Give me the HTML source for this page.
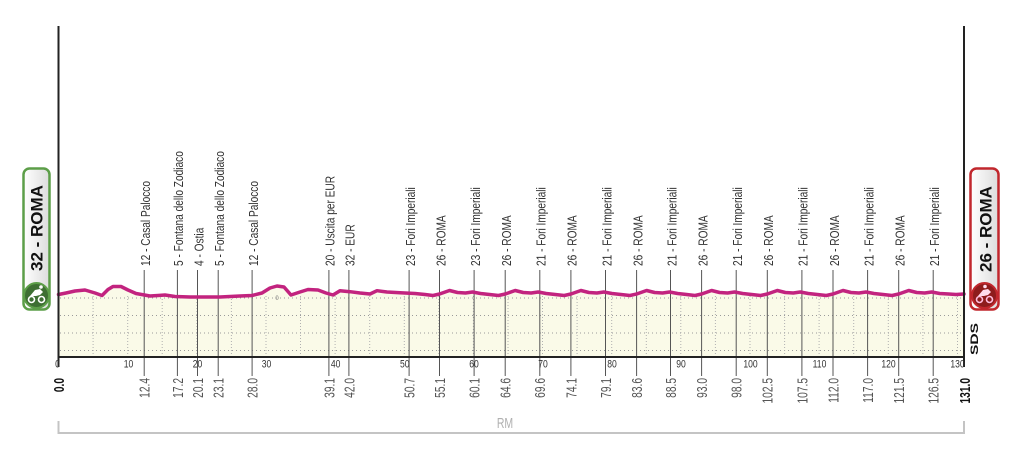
<!DOCTYPE html>
<html><head><meta charset="utf-8"><style>
html,body{margin:0;padding:0;background:#fff;}
svg{display:block;font-family:"Liberation Sans",sans-serif;}
</style></head><body>
<svg width="1024" height="453" viewBox="0 0 1024 453" xmlns="http://www.w3.org/2000/svg">
<defs>
<linearGradient id="bg" x1="0" y1="0" x2="1" y2="0"><stop offset="0" stop-color="#ffffff"/><stop offset="1" stop-color="#dcdcdc"/></linearGradient>
</defs>
<rect width="1024" height="453" fill="#fff"/>

<!-- fill -->
<polygon fill="#fafae8" points="58.5,294.5 66,293 75,291 85,290 95,293 102,295.5 108,289.5 113,286.5 121,286.5 128,290 136,293.5 150,296 158,295.5 165,295 175,296.5 190,297 220,297 240,296 252,295.5 262,293 270,288 277,286 284,287 291,295 300,292 308,289.5 318,290 326,293 333,295 340,290.7 350,291.7 360,293 370,294 377,290.7 387,292 400,292.7 415,293.5 425,294.5 433,295.5 439.5,294 449.5,290.5 457.5,292.5 465.5,293 472.5,292 480.5,293.5 489.5,294.5 498.5,295.5 505.2,294 515.2,290.5 523.2,292.5 531.2,293 538.2,292 546.2,293.5 555.2,294.5 564.2,295.5 570.9,294 580.9,290.5 588.9,292.5 596.9,293 603.9,292 611.9,293.5 620.9,294.5 629.9,295.5 636.6,294 646.6,290.5 654.6,292.5 662.6,293 669.6,292 677.6,293.5 686.6,294.5 695,295.5 701.6,294 711.6,290.5 719.6,292.5 727.6,293 734.6,292 742.6,293.5 751.6,294.5 760.6,295.5 767.3,294 777.3,290.5 785.3,292.5 793.3,293 800.3,292 808.3,293.5 817.3,294.5 826.3,295.5 833,294 843,290.5 851,292.5 859,293 866,292 874,293.5 883,294.5 892,295.5 898.7,294 908.7,290.5 916.7,292.5 924.7,293 931.7,292 939.7,293.5 948.7,294 956,294.5 964,294 964,357 58.5,357"/>

<!-- horizontal dotted grid -->
<g stroke="#9a9a9a" stroke-width="1" stroke-dasharray="1 3">
<line x1="60" y1="298" x2="963" y2="298"/>
<line x1="60" y1="315.5" x2="963" y2="315.5"/>
<line x1="60" y1="333" x2="963" y2="333"/>
<line x1="60" y1="350.5" x2="963" y2="350.5"/>
</g>
<!-- vertical dotted grid every 5 km -->
<g stroke="#b0b0b0" stroke-width="1" stroke-dasharray="1 2">
<line x1="93.1" y1="296" x2="93.1" y2="356"/><line x1="127.7" y1="296" x2="127.7" y2="356"/><line x1="162.2" y1="296" x2="162.2" y2="356"/><line x1="196.8" y1="296" x2="196.8" y2="356"/><line x1="231.4" y1="296" x2="231.4" y2="356"/><line x1="266" y1="296" x2="266" y2="356"/><line x1="300.5" y1="296" x2="300.5" y2="356"/><line x1="335.1" y1="296" x2="335.1" y2="356"/><line x1="369.7" y1="296" x2="369.7" y2="356"/><line x1="404.3" y1="296" x2="404.3" y2="356"/><line x1="438.8" y1="296" x2="438.8" y2="356"/><line x1="473.4" y1="296" x2="473.4" y2="356"/><line x1="508" y1="296" x2="508" y2="356"/><line x1="542.5" y1="296" x2="542.5" y2="356"/><line x1="577.1" y1="296" x2="577.1" y2="356"/><line x1="611.7" y1="296" x2="611.7" y2="356"/><line x1="646.3" y1="296" x2="646.3" y2="356"/><line x1="680.8" y1="296" x2="680.8" y2="356"/><line x1="715.4" y1="296" x2="715.4" y2="356"/><line x1="750" y1="296" x2="750" y2="356"/><line x1="784.6" y1="296" x2="784.6" y2="356"/><line x1="819.1" y1="296" x2="819.1" y2="356"/><line x1="853.7" y1="296" x2="853.7" y2="356"/><line x1="888.3" y1="296" x2="888.3" y2="356"/><line x1="922.9" y1="296" x2="922.9" y2="356"/><line x1="957.5" y1="296" x2="957.5" y2="356"/>
</g>

<!-- marker lines -->
<g stroke="#555" stroke-width="1">
<line x1="144.2" y1="270" x2="144.2" y2="376"/><line x1="177.4" y1="270" x2="177.4" y2="376"/><line x1="197.5" y1="270" x2="197.5" y2="376"/><line x1="218.2" y1="270" x2="218.2" y2="376"/><line x1="252.1" y1="270" x2="252.1" y2="376"/><line x1="328.9" y1="270" x2="328.9" y2="376"/><line x1="348.9" y1="270" x2="348.9" y2="376"/><line x1="409.1" y1="270" x2="409.1" y2="376"/><line x1="439.5" y1="270" x2="439.5" y2="376"/><line x1="474.1" y1="270" x2="474.1" y2="376"/><line x1="505.2" y1="270" x2="505.2" y2="376"/><line x1="539.8" y1="270" x2="539.8" y2="376"/><line x1="570.9" y1="270" x2="570.9" y2="376"/><line x1="605.5" y1="270" x2="605.5" y2="376"/><line x1="636.6" y1="270" x2="636.6" y2="376"/><line x1="670.5" y1="270" x2="670.5" y2="376"/><line x1="701.6" y1="270" x2="701.6" y2="376"/><line x1="736.2" y1="270" x2="736.2" y2="376"/><line x1="767.3" y1="270" x2="767.3" y2="376"/><line x1="801.9" y1="270" x2="801.9" y2="376"/><line x1="833" y1="270" x2="833" y2="376"/><line x1="867.6" y1="270" x2="867.6" y2="376"/><line x1="898.7" y1="270" x2="898.7" y2="376"/><line x1="933.2" y1="270" x2="933.2" y2="376"/>
</g>

<!-- profile line -->
<polyline fill="none" stroke="#c2237f" stroke-width="3.5" stroke-linejoin="round" stroke-linecap="round" points="58.5,294.5 66,293 75,291 85,290 95,293 102,295.5 108,289.5 113,286.5 121,286.5 128,290 136,293.5 150,296 158,295.5 165,295 175,296.5 190,297 220,297 240,296 252,295.5 262,293 270,288 277,286 284,287 291,295 300,292 308,289.5 318,290 326,293 333,295 340,290.7 350,291.7 360,293 370,294 377,290.7 387,292 400,292.7 415,293.5 425,294.5 433,295.5 439.5,294 449.5,290.5 457.5,292.5 465.5,293 472.5,292 480.5,293.5 489.5,294.5 498.5,295.5 505.2,294 515.2,290.5 523.2,292.5 531.2,293 538.2,292 546.2,293.5 555.2,294.5 564.2,295.5 570.9,294 580.9,290.5 588.9,292.5 596.9,293 603.9,292 611.9,293.5 620.9,294.5 629.9,295.5 636.6,294 646.6,290.5 654.6,292.5 662.6,293 669.6,292 677.6,293.5 686.6,294.5 695,295.5 701.6,294 711.6,290.5 719.6,292.5 727.6,293 734.6,292 742.6,293.5 751.6,294.5 760.6,295.5 767.3,294 777.3,290.5 785.3,292.5 793.3,293 800.3,292 808.3,293.5 817.3,294.5 826.3,295.5 833,294 843,290.5 851,292.5 859,293 866,292 874,293.5 883,294.5 892,295.5 898.7,294 908.7,290.5 916.7,292.5 924.7,293 931.7,292 939.7,293.5 948.7,294 956,294.5 964,294"/>

<text x="277" y="300" font-size="6" fill="#777" text-anchor="middle">0</text>

<!-- axes -->
<g stroke="#222" stroke-width="2">
<line x1="58.5" y1="26" x2="58.5" y2="367"/>
<line x1="964" y1="26" x2="964" y2="367"/>
<line x1="57.5" y1="357" x2="965" y2="357"/>
</g>

<!-- top labels -->
<g font-size="13" fill="#333">
<text transform="translate(150,266) rotate(-90) scale(0.78,1)">12 - Casal Palocco</text>
<text transform="translate(183.2,266) rotate(-90) scale(0.78,1)">5 - Fontana dello Zodiaco</text>
<text transform="translate(203.3,266) rotate(-90) scale(0.78,1)">4 - Ostia</text>
<text transform="translate(224,266) rotate(-90) scale(0.78,1)">5 - Fontana dello Zodiaco</text>
<text transform="translate(257.9,266) rotate(-90) scale(0.78,1)">12 - Casal Palocco</text>
<text transform="translate(334.7,266) rotate(-90) scale(0.78,1)">20 - Uscita per EUR</text>
<text transform="translate(354.7,266) rotate(-90) scale(0.78,1)">32 - EUR</text>
<text transform="translate(414.9,266) rotate(-90) scale(0.78,1)">23 - Fori Imperiali</text>
<text transform="translate(445.3,266) rotate(-90) scale(0.78,1)">26 - ROMA</text>
<text transform="translate(479.9,266) rotate(-90) scale(0.78,1)">23 - Fori Imperiali</text>
<text transform="translate(511,266) rotate(-90) scale(0.78,1)">26 - ROMA</text>
<text transform="translate(545.6,266) rotate(-90) scale(0.78,1)">21 - Fori Imperiali</text>
<text transform="translate(576.7,266) rotate(-90) scale(0.78,1)">26 - ROMA</text>
<text transform="translate(611.3,266) rotate(-90) scale(0.78,1)">21 - Fori Imperiali</text>
<text transform="translate(642.4,266) rotate(-90) scale(0.78,1)">26 - ROMA</text>
<text transform="translate(676.3,266) rotate(-90) scale(0.78,1)">21 - Fori Imperiali</text>
<text transform="translate(707.4,266) rotate(-90) scale(0.78,1)">26 - ROMA</text>
<text transform="translate(742,266) rotate(-90) scale(0.78,1)">21 - Fori Imperiali</text>
<text transform="translate(773.1,266) rotate(-90) scale(0.78,1)">26 - ROMA</text>
<text transform="translate(807.7,266) rotate(-90) scale(0.78,1)">21 - Fori Imperiali</text>
<text transform="translate(838.8,266) rotate(-90) scale(0.78,1)">26 - ROMA</text>
<text transform="translate(873.4,266) rotate(-90) scale(0.78,1)">21 - Fori Imperiali</text>
<text transform="translate(904.5,266) rotate(-90) scale(0.78,1)">26 - ROMA</text>
<text transform="translate(939,266) rotate(-90) scale(0.78,1)">21 - Fori Imperiali</text>
</g>

<!-- tick labels -->
<g font-size="11" fill="#333" text-anchor="middle">
<text transform="translate(57.5,367.5) scale(0.78,1)">0</text>
<text transform="translate(128.5,367.5) scale(0.78,1)">10</text>
<text transform="translate(197.5,367.5) scale(0.78,1)">20</text>
<text transform="translate(266.5,367.5) scale(0.78,1)">30</text>
<text transform="translate(335.6,367.5) scale(0.78,1)">40</text>
<text transform="translate(404.8,367.5) scale(0.78,1)">50</text>
<text transform="translate(474,367.5) scale(0.78,1)">60</text>
<text transform="translate(543,367.5) scale(0.78,1)">70</text>
<text transform="translate(612,367.5) scale(0.78,1)">80</text>
<text transform="translate(681,367.5) scale(0.78,1)">90</text>
<text transform="translate(750.5,367.5) scale(0.78,1)">100</text>
<text transform="translate(819.5,367.5) scale(0.78,1)">110</text>
<text transform="translate(888.5,367.5) scale(0.78,1)">120</text>
<text transform="translate(957.5,367.5) scale(0.78,1)">130</text>
</g>

<!-- bottom km labels -->
<g font-size="15" fill="#555" text-anchor="end">
<text transform="translate(149.6,378) rotate(-90) scale(0.68,1)">12.4</text>
<text transform="translate(182.8,378) rotate(-90) scale(0.68,1)">17.2</text>
<text transform="translate(202.9,378) rotate(-90) scale(0.68,1)">20.1</text>
<text transform="translate(223.6,378) rotate(-90) scale(0.68,1)">23.1</text>
<text transform="translate(257.5,378) rotate(-90) scale(0.68,1)">28.0</text>
<text transform="translate(334.3,378) rotate(-90) scale(0.68,1)">39.1</text>
<text transform="translate(354.3,378) rotate(-90) scale(0.68,1)">42.0</text>
<text transform="translate(414.5,378) rotate(-90) scale(0.68,1)">50.7</text>
<text transform="translate(444.9,378) rotate(-90) scale(0.68,1)">55.1</text>
<text transform="translate(479.5,378) rotate(-90) scale(0.68,1)">60.1</text>
<text transform="translate(510.6,378) rotate(-90) scale(0.68,1)">64.6</text>
<text transform="translate(545.2,378) rotate(-90) scale(0.68,1)">69.6</text>
<text transform="translate(576.3,378) rotate(-90) scale(0.68,1)">74.1</text>
<text transform="translate(610.9,378) rotate(-90) scale(0.68,1)">79.1</text>
<text transform="translate(642,378) rotate(-90) scale(0.68,1)">83.6</text>
<text transform="translate(675.9,378) rotate(-90) scale(0.68,1)">88.5</text>
<text transform="translate(707,378) rotate(-90) scale(0.68,1)">93.0</text>
<text transform="translate(741.6,378) rotate(-90) scale(0.68,1)">98.0</text>
<text transform="translate(772.7,378) rotate(-90) scale(0.68,1)">102.5</text>
<text transform="translate(807.3,378) rotate(-90) scale(0.68,1)">107.5</text>
<text transform="translate(838.4,378) rotate(-90) scale(0.68,1)">112.0</text>
<text transform="translate(873,378) rotate(-90) scale(0.68,1)">117.0</text>
<text transform="translate(904.1,378) rotate(-90) scale(0.68,1)">121.5</text>
<text transform="translate(938.6,378) rotate(-90) scale(0.68,1)">126.5</text>
</g>
<g font-size="15" fill="#111" font-weight="bold" text-anchor="end">
<text transform="translate(64,378) rotate(-90) scale(0.68,1)">0.0</text>
<text transform="translate(970,378) rotate(-90) scale(0.68,1)">131.0</text>
</g>

<!-- SDS -->
<text transform="translate(978,355) rotate(-90)" font-size="11" font-weight="bold" fill="#111" textLength="32" lengthAdjust="spacingAndGlyphs">SDS</text>

<!-- RM bracket -->
<g stroke="#c4c4c4" stroke-width="2" fill="none">
<polyline points="58.5,421 58.5,433 964,433 964,421"/>
</g>
<text transform="translate(505,428) scale(0.7,1)" font-size="15" fill="#b0b0b0" text-anchor="middle">RM</text>

<!-- left badge -->
<rect x="23.5" y="168.5" width="26" height="141" rx="6" fill="url(#bg)" stroke="#5c9e48" stroke-width="2.5"/>
<text transform="translate(42.5,271) rotate(-90)" font-size="17" font-weight="bold" fill="#111">32 - ROMA</text>
<circle cx="36.5" cy="295.5" r="12.5" fill="#3e6f33" stroke="#5c9e48" stroke-width="2"/>
<g fill="none" stroke="#fff" stroke-width="1.6">
<circle cx="31.5" cy="299.5" r="3"/><circle cx="41.5" cy="299.5" r="3"/>
</g>
<path d="M30 296 L35 290 L40 289 L43 292 L40 295 L36 296 Z" fill="#fff"/>
<circle cx="41" cy="287" r="1.8" fill="#fff"/>

<!-- right badge -->
<rect x="970.5" y="168.5" width="28" height="141" rx="6" fill="url(#bg)" stroke="#c1272d" stroke-width="2.5"/>
<text transform="translate(991.5,272) rotate(-90)" font-size="17" font-weight="bold" fill="#111">26 - ROMA</text>
<circle cx="984.5" cy="295.5" r="12.5" fill="#8e1c1c" stroke="#c1272d" stroke-width="2"/>
<g fill="none" stroke="#fbd" stroke-width="1.6">
<circle cx="979.5" cy="299.5" r="3"/><circle cx="989.5" cy="299.5" r="3"/>
</g>
<path d="M978 296 L983 290 L988 289 L991 292 L988 295 L984 296 Z" fill="#fde"/>
<circle cx="985" cy="286.5" r="1.8" fill="#fde"/>
</svg>
</body></html>
